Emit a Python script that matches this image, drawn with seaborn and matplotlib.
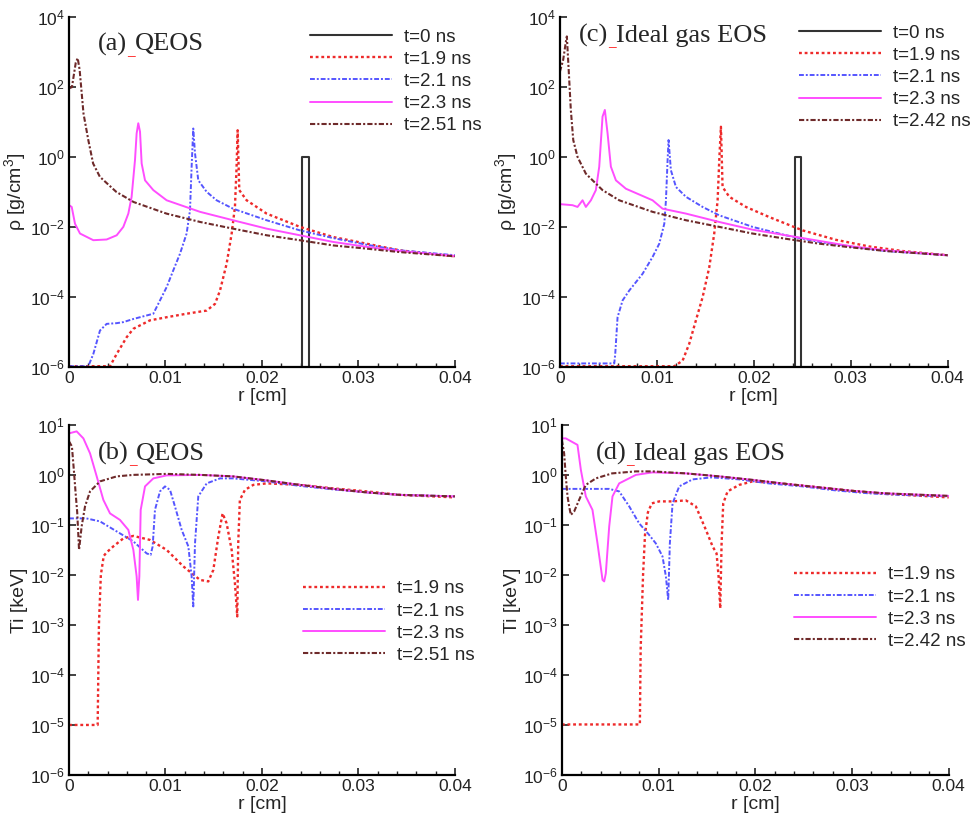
# Density and ion temperature profiles, QEOS vs ideal gas EOS
import numpy as np
import matplotlib.pyplot as plt
import matplotlib.ticker as mticker
import seaborn as sns

# --- data (r in cm, values stored as log10) ---
labels_qeos = ['t=0 ns', 't=1.9 ns', 't=2.1 ns', 't=2.3 ns', 't=2.51 ns']
labels_ideal = ['t=0 ns', 't=1.9 ns', 't=2.1 ns', 't=2.3 ns', 't=2.42 ns']

# (a) density, QEOS
a_r_t0 = [0, 0.0241, 0.0241, 0.0249, 0.0249, 0.04]
a_lg_t0 = [-6.5, -6.5, 0.0, 0.0, -6.5, -6.5]
a_r_19 = [0, 0.00425, 0.00494, 0.00598, 0.00667, 0.00839, 0.01012, 0.01219, 0.01427, 0.01513,
          0.01565, 0.01634, 0.01686, 0.0172, 0.01737, 0.01748, 0.01765, 0.01841, 0.02048, 0.02394,
          0.02739, 0.03085, 0.0343, 0.04]
a_lg_19 = [-5.97, -5.97, -5.62, -5.14, -4.9, -4.66, -4.57, -4.47, -4.38, -4.19,
           -3.81, -3.04, -2.18, -1.42, -0.27, 0.77, -0.94, -1.23, -1.61, -1.99,
           -2.28, -2.47, -2.66, -2.83]
a_r_21 = [0, 0.002, 0.00252, 0.00321, 0.0039, 0.00494, 0.00563, 0.00667, 0.00874, 0.00943,
          0.01012, 0.01081, 0.0115, 0.01219, 0.01254, 0.01271, 0.01288, 0.01306, 0.0134, 0.01427,
          0.0153, 0.017, 0.02048, 0.02394, 0.02739, 0.03085, 0.0343, 0.04]
a_lg_21 = [-5.97, -5.97, -5.62, -4.95, -4.76, -4.74, -4.71, -4.62, -4.47, -4.09,
           -3.71, -3.23, -2.76, -2.18, -1.52, -0.27, 0.82, 0.11, -0.66, -0.99,
           -1.23, -1.47, -1.8, -2.09, -2.31, -2.5, -2.66, -2.8]
a_r_23 = [0, 0.00028, 0.00062, 0.00114, 0.00252, 0.0039, 0.00494, 0.00563, 0.00615, 0.00649,
          0.00684, 0.00701, 0.00718, 0.00736, 0.00753, 0.00788, 0.00874, 0.01012, 0.01358, 0.017,
          0.02048, 0.02394, 0.02739, 0.03085, 0.0343, 0.04]
a_lg_23 = [-1.37, -1.42, -1.9, -2.18, -2.37, -2.35, -2.23, -1.99, -1.61, -1.13,
           -0.08, 0.68, 0.97, 0.73, -0.18, -0.66, -0.94, -1.23, -1.56, -1.8,
           -2.04, -2.23, -2.42, -2.56, -2.68, -2.82]
a_r_251 = [0, 0.0003, 0.0007, 0.0009, 0.0011, 0.0015, 0.002, 0.0025, 0.0032, 0.0049,
           0.0067, 0.0101, 0.0136, 0.017, 0.0205, 0.0239, 0.0274, 0.0308, 0.0343, 0.04]
a_lg_251 = [1.97, 2.0, 2.7, 2.83, 2.5, 1.25, 0.49, -0.18, -0.56, -0.99,
            -1.28, -1.61, -1.85, -2.04, -2.23, -2.37, -2.52, -2.61, -2.71, -2.83]

# (c) density, ideal gas EOS
c_r_t0 = [0, 0.0242, 0.0242, 0.0249, 0.0249, 0.04]
c_lg_t0 = [-6.5, -6.5, 0.0, 0.0, -6.5, -6.5]
c_r_19 = [0, 0.0118, 0.01266, 0.01334, 0.01403, 0.01472, 0.01541, 0.01592, 0.01627, 0.01644,
          0.01661, 0.01678, 0.01747, 0.01919, 0.0216, 0.02504, 0.02848, 0.03192, 0.03536, 0.04]
c_lg_19 = [-5.97, -5.97, -5.81, -5.33, -4.66, -4.0, -3.14, -2.18, -1.23, -0.08,
           0.87, -0.85, -1.13, -1.42, -1.71, -2.09, -2.36, -2.55, -2.68, -2.8]
c_r_21 = [0, 0.00561, 0.00571, 0.00595, 0.00647, 0.00715, 0.00853, 0.00956, 0.01025, 0.01077,
          0.01094, 0.01111, 0.01121, 0.01145, 0.01197, 0.013, 0.01472, 0.01644, 0.01988, 0.02332,
          0.02676, 0.0302, 0.03364, 0.04]
c_lg_21 = [-5.89, -5.89, -5.62, -4.57, -4.09, -3.81, -3.33, -2.85, -2.47, -1.9,
           -1.23, -0.08, 0.49, -0.37, -0.85, -1.13, -1.42, -1.66, -1.99, -2.23,
           -2.42, -2.56, -2.68, -2.8]
c_r_23 = [0, 0.0013, 0.00182, 0.00234, 0.00268, 0.0032, 0.00371, 0.00406, 0.0044, 0.00464,
          0.00492, 0.00526, 0.00578, 0.00681, 0.00956, 0.01059, 0.013, 0.01644, 0.01988, 0.02332,
          0.02676, 0.0302, 0.03364, 0.04]
c_lg_23 = [-1.34, -1.37, -1.42, -1.23, -1.42, -1.23, -0.94, -0.27, 1.16, 1.35,
           0.68, -0.27, -0.66, -0.9, -1.23, -1.47, -1.61, -1.85, -2.07, -2.23,
           -2.39, -2.55, -2.66, -2.8]
c_r_242 = [0, 0.00034, 0.00062, 0.00072, 0.00089, 0.00113, 0.00138, 0.00182, 0.00268, 0.0044,
           0.00612, 0.00956, 0.013, 0.01644, 0.01988, 0.02332, 0.02676, 0.0302, 0.03364, 0.04]
c_lg_242 = [2.44, 2.78, 3.3, 3.45, 2.59, 1.35, 0.49, 0.01, -0.47, -0.94,
            -1.23, -1.56, -1.8, -1.99, -2.18, -2.33, -2.47, -2.58, -2.68, -2.8]

# (b) ion temperature, QEOS
b_r_19 = [0, 0.00297, 0.0031, 0.0033, 0.0036, 0.0039, 0.00459, 0.00563, 0.00667, 0.00839,
          0.01012, 0.01185, 0.01358, 0.01444, 0.01496, 0.01548, 0.01592, 0.01634, 0.01686, 0.0172,
          0.01744, 0.01754, 0.01771, 0.01824, 0.0191, 0.02048, 0.02394, 0.02739, 0.03085, 0.0343,
          0.04]
b_lg_19 = [-5.0, -5.0, -3.0, -2.0, -1.62, -1.55, -1.43, -1.27, -1.22, -1.3,
           -1.5, -1.83, -2.1, -2.13, -1.9, -1.23, -0.77, -0.97, -1.5, -2.17,
           -2.83, -1.37, -0.5, -0.3, -0.2, -0.17, -0.2, -0.27, -0.33, -0.4,
           -0.45]
b_r_21 = [0, 0.0018, 0.00321, 0.00494, 0.00667, 0.00805, 0.00846, 0.00867, 0.00891, 0.00943,
          0.00995, 0.01047, 0.01098, 0.01168, 0.01237, 0.01271, 0.01288, 0.01306, 0.0134, 0.01427,
          0.01565, 0.017, 0.02048, 0.02394, 0.02739, 0.03085, 0.0343, 0.04]
b_lg_21 = [-0.87, -0.87, -0.93, -1.13, -1.33, -1.57, -1.6, -1.43, -0.7, -0.33,
           -0.23, -0.3, -0.63, -1.1, -1.43, -2.03, -2.63, -1.37, -0.43, -0.17,
           -0.07, -0.07, -0.13, -0.22, -0.29, -0.35, -0.4, -0.43]
b_r_23 = [0, 0.00079, 0.00149, 0.00218, 0.00287, 0.00356, 0.00425, 0.00528, 0.00615, 0.00667,
          0.00701, 0.00715, 0.00729, 0.00743, 0.00788, 0.00874, 0.01012, 0.01358, 0.017, 0.02048,
          0.02394, 0.02739, 0.03085, 0.0343, 0.04]
b_lg_23 = [0.83, 0.87, 0.73, 0.43, -0.03, -0.5, -0.77, -0.9, -1.1, -1.5,
           -2.03, -2.5, -2.03, -0.7, -0.23, -0.07, -0.01, 0.0, -0.03, -0.11,
           -0.2, -0.28, -0.35, -0.4, -0.43]
b_r_251 = [0, 0.0003, 0.0005, 0.0007, 0.00085, 0.00104, 0.00131, 0.00166, 0.00218, 0.00321,
           0.00494, 0.00667, 0.01012, 0.01358, 0.017, 0.02048, 0.02394, 0.02739, 0.03085, 0.0343,
           0.04]
b_lg_251 = [0.67, 0.57, 0.1, -0.4, -0.75, -1.5, -1.03, -0.63, -0.33, -0.13,
            -0.03, 0.0, 0.02, 0.0, -0.03, -0.11, -0.2, -0.28, -0.35, -0.4,
            -0.43]

# (d) ion temperature, ideal gas EOS
d_r_19 = [0, 0.00807, 0.00815, 0.0084, 0.0086, 0.0089, 0.0093, 0.01007, 0.01145, 0.01283,
          0.01386, 0.0149, 0.01559, 0.016, 0.01621, 0.01638, 0.01652, 0.01669, 0.01714, 0.01834,
          0.01972, 0.02317, 0.02662, 0.03007, 0.03352, 0.04]
d_lg_19 = [-4.99, -4.99, -3.5, -2.0, -1.2, -0.75, -0.57, -0.53, -0.53, -0.51,
           -0.63, -1.1, -1.43, -1.57, -2.03, -2.67, -1.37, -0.57, -0.33, -0.2,
           -0.13, -0.18, -0.25, -0.32, -0.38, -0.45]
d_r_21 = [0, 0.0049, 0.00593, 0.00697, 0.008, 0.00903, 0.00972, 0.01041, 0.01076, 0.011,
          0.01117, 0.01145, 0.01214, 0.01352, 0.0155, 0.01834, 0.0214, 0.0249, 0.0283, 0.0318,
          0.0352, 0.04]
d_lg_21 = [-0.28, -0.28, -0.33, -0.63, -0.97, -1.2, -1.37, -1.63, -2.03, -2.5,
           -1.37, -0.57, -0.23, -0.09, -0.05, -0.09, -0.17, -0.23, -0.31, -0.37,
           -0.4, -0.43]
d_r_23 = [0, 0.00041, 0.00162, 0.00197, 0.00248, 0.00317, 0.00369, 0.00421, 0.00438, 0.00455,
          0.0049, 0.00524, 0.00593, 0.00766, 0.00938, 0.01283, 0.01628, 0.01972, 0.02317, 0.02662,
          0.03007, 0.03352, 0.04]
d_lg_23 = [0.73, 0.73, 0.6, 0.1, -0.43, -0.7, -1.37, -2.1, -2.13, -1.97,
           -1.03, -0.43, -0.17, 0.0, 0.05, 0.03, -0.03, -0.1, -0.18, -0.25,
           -0.32, -0.37, -0.42]
d_r_242 = [0, 0.00024, 0.00041, 0.00059, 0.00076, 0.00093, 0.00128, 0.00179, 0.00248, 0.00352,
           0.0052, 0.00766, 0.00938, 0.01283, 0.01628, 0.01972, 0.02317, 0.02662, 0.03007, 0.03352,
           0.04]
d_lg_242 = [0.7, 0.43, -0.03, -0.43, -0.63, -0.8, -0.73, -0.5, -0.2, -0.07,
            0.03, 0.07, 0.07, 0.03, -0.03, -0.1, -0.18, -0.25, -0.32, -0.37,
            -0.42]

x_ticks = [0, 0.01, 0.02, 0.03, 0.04]
x_ticklabels = ['0', '0.01', '0.02', '0.03', '0.04']

# --- styling ---
colors = ['#333333', '#ee2a2a', '#5555ff', '#ff4dff', '#6e2a2a']
styles = ['-', (0, (1.2, 1.2)), (0, (2.5, 1, 1, 1)), '-', (0, (2.5, 1, 1, 1))]
widths = [1.5, 1.7, 1.4, 1.4, 1.5]

sns.set_style("ticks")
plt.rcParams['font.family'] = ['Liberation Sans', 'DejaVu Sans']
plt.rcParams['mathtext.default'] = 'regular'
plt.rcParams['xtick.direction'] = 'in'
plt.rcParams['ytick.direction'] = 'in'

fig = plt.figure(figsize=(9.72, 8.18), dpi=100)


def panel(rect, curves, labels, idx, ylim, yticks, ylabel, tag, name, tag_pos, leg_pos):
    ax = fig.add_axes(rect)
    for (r, lg), lab, i in zip(curves, labels, idx):
        sns.lineplot(x=r, y=np.power(10.0, lg), ax=ax, estimator=None, sort=False,
                     color=colors[i], linestyle=styles[i], linewidth=widths[i], label=lab)
    ax.set_yscale('log')
    ax.set_xlim(0, 0.04)
    ax.set_ylim(*ylim)
    ax.yaxis.set_major_locator(mticker.FixedLocator(yticks))
    ax.yaxis.set_major_formatter(mticker.LogFormatterSciNotation())
    ax.yaxis.set_minor_locator(mticker.NullLocator())
    ax.set_xticks(x_ticks)
    ax.set_xticklabels(x_ticklabels)
    ax.xaxis.set_minor_locator(mticker.MultipleLocator(0.002))
    ax.tick_params(which='major', length=5, width=1.2, labelsize=12.5, pad=3, colors='#222222')
    ax.tick_params(which='minor', length=3, width=1.0)
    sns.despine(ax=ax)
    for s in ['left', 'bottom']:
        ax.spines[s].set_linewidth(1.6)
        ax.spines[s].set_color('black')
    ax.set_xlabel('r [cm]', fontsize=14, labelpad=1)
    ax.set_ylabel(ylabel, fontsize=14, labelpad=1)
    ax.legend(loc='upper left', bbox_to_anchor=leg_pos, frameon=False, fontsize=13.5,
              handlelength=4.4, handletextpad=0.6, labelspacing=0.27, borderpad=0,
              borderaxespad=0)
    # panel tag with the red underscore
    t1 = ax.text(tag_pos[0], tag_pos[1], tag, transform=ax.transAxes, fontsize=19,
                 family='Liberation Serif', va='baseline')
    t2 = ax.annotate('_', xy=(1, tag_pos[1] - 0.012), xycoords=(t1, 'axes fraction'),
                     fontsize=11, color='red', family='Liberation Serif', va='baseline')
    ax.annotate(name, xy=(1, tag_pos[1]), xycoords=(t2, 'axes fraction'), fontsize=19,
                family='Liberation Serif', va='baseline')
    return ax


rho_ticks = [1e-6, 1e-4, 1e-2, 1e0, 1e2, 1e4]
ti_ticks = [1e-6, 1e-5, 1e-4, 1e-3, 1e-2, 1e-1, 1e0, 1e1]

panel([0.071, 0.551, 0.397, 0.428],
      [(a_r_t0, a_lg_t0), (a_r_19, a_lg_19), (a_r_21, a_lg_21), (a_r_23, a_lg_23), (a_r_251, a_lg_251)],
      labels_qeos, [0, 1, 2, 3, 4], (1e-6, 1e4), rho_ticks, r'$\rho$ [g/cm$^3$]',
      '(a)', 'QEOS', (0.075, 0.905), (0.624, 0.968))

panel([0.071, 0.0526, 0.397, 0.428],
      [(b_r_19, b_lg_19), (b_r_21, b_lg_21), (b_r_23, b_lg_23), (b_r_251, b_lg_251)],
      labels_qeos[1:], [1, 2, 3, 4], (1e-6, 1e1), ti_ticks, 'Ti [keV]',
      '(b)', 'QEOS', (0.075, 0.9), (0.606, 0.556))

panel([0.576, 0.551, 0.399, 0.428],
      [(c_r_t0, c_lg_t0), (c_r_19, c_lg_19), (c_r_21, c_lg_21), (c_r_23, c_lg_23), (c_r_242, c_lg_242)],
      labels_ideal, [0, 1, 2, 3, 4], (1e-6, 1e4), rho_ticks, r'$\rho$ [g/cm$^3$]',
      '(c)', 'Ideal gas EOS', (0.049, 0.93), (0.616, 0.979))

panel([0.578, 0.0526, 0.398, 0.428],
      [(d_r_19, d_lg_19), (d_r_21, d_lg_21), (d_r_23, d_lg_23), (d_r_242, d_lg_242)],
      labels_ideal[1:], [1, 2, 3, 4], (1e-6, 1e1), ti_ticks, 'Ti [keV]',
      '(d)', 'Ideal gas EOS', (0.088, 0.9), (0.6, 0.596))

fig.savefig('out.png', dpi=100)
